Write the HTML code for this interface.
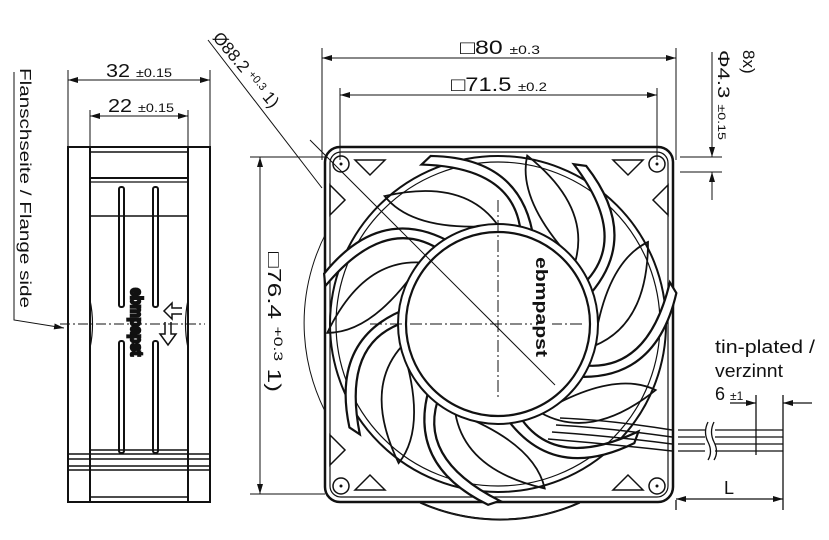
<!DOCTYPE html>
<html><head><meta charset="utf-8"><style>
html,body{margin:0;padding:0;background:#fff;}
svg{display:block;}
text{font-family:"Liberation Sans",sans-serif;fill:#111;}
</style></head><body>
<svg width="829" height="540" viewBox="0 0 829 540" xmlns="http://www.w3.org/2000/svg">
<defs>
<marker id="a" markerWidth="10" markerHeight="6" refX="10" refY="3" orient="auto-start-reverse" markerUnits="userSpaceOnUse"><path d="M0,0 L10,3 L0,6 Z" fill="#111"/></marker>
<g id="strut"><path d="M90,-5 Q155,-30 128,-122 L139,-116 Q166,-28 91,8 Z" fill="#fff" stroke="#111" stroke-width="2.2"/></g>
<g id="blade"><path d="M96,22 Q150,0 150,-82 Q108,-62 96,22 Z" fill="none" stroke="#111" stroke-width="1.8"/></g>
</defs>

<!-- LEFT SIDE VIEW -->
<g stroke="#111" fill="none" stroke-width="2">
<rect x="68" y="147" width="142" height="355"/>
<line x1="90" y1="147" x2="90" y2="502"/>
<line x1="188" y1="147" x2="188" y2="502"/>
<line x1="90" y1="152" x2="188" y2="152" stroke-width="1.5"/>
<line x1="90" y1="178" x2="188" y2="178"/>
<line x1="90" y1="182" x2="188" y2="182" stroke-width="1.2"/>
<line x1="90" y1="216" x2="188" y2="216" stroke-width="1.5"/>
<line x1="90" y1="450" x2="188" y2="450" stroke-width="1.5"/>
<line x1="68" y1="454" x2="210" y2="454" stroke-width="1.5"/>
<line x1="68" y1="459" x2="210" y2="459" stroke-width="1.5"/>
<line x1="68" y1="466" x2="210" y2="466" stroke-width="1.5"/>
<line x1="68" y1="470" x2="210" y2="470" stroke-width="1.5"/>
<line x1="90" y1="497" x2="188" y2="497" stroke-width="1.5"/>
<rect x="119" y="187" width="5" height="120" rx="2"/>
<rect x="153" y="187" width="5" height="120" rx="2"/>
<rect x="119" y="341" width="5" height="112" rx="2"/>
<rect x="153" y="341" width="5" height="112" rx="2"/>
<path d="M90,300 Q95,324 90,348 M188,300 Q183,324 188,348" stroke-width="1.2"/>
<path d="M182,308 L172,308 L172,303 L164,311 L172,319 L172,314 L182,314" stroke-width="1.5"/>
<path d="M165,322 L165,334 L160,334 L168,345 L176,334 L171,334 L171,322" stroke-width="1.5"/>
</g>
<line x1="60" y1="324" x2="205" y2="324" stroke="#111" stroke-width="1" stroke-dasharray="10,3,2,3"/>
<text transform="translate(131,288) rotate(90)" font-size="17" font-weight="bold" stroke="#111" stroke-width="2.5" textLength="68" lengthAdjust="spacingAndGlyphs">ebmpapst</text>
<!-- side dims -->
<g stroke="#111" stroke-width="1" fill="none">
<line x1="68" y1="70" x2="68" y2="147"/><line x1="210" y1="70" x2="210" y2="147"/>
<line x1="68" y1="80" x2="210" y2="80" marker-start="url(#a)" marker-end="url(#a)"/>
<line x1="90" y1="110" x2="90" y2="147"/><line x1="188" y1="110" x2="188" y2="147"/>
<line x1="90" y1="116" x2="188" y2="116" marker-start="url(#a)" marker-end="url(#a)"/>
<polyline points="14,72 14,320 64,328" marker-end="url(#a)"/>
</g>
<text x="106" y="77" font-size="18" textLength="66" lengthAdjust="spacingAndGlyphs">32 <tspan font-size="12">±0.15</tspan></text>
<text x="108" y="112" font-size="18" textLength="66" lengthAdjust="spacingAndGlyphs">22 <tspan font-size="12">±0.15</tspan></text>
<text transform="translate(20,68) rotate(90)" font-size="16" textLength="240" lengthAdjust="spacingAndGlyphs">Flanschseite / Flange side</text>

<!-- FRONT VIEW -->
<path d="M340,210 A196,196 0 0 0 596,494" fill="none" stroke="#111" stroke-width="1"/>
<path d="M420,503 A196,196 0 0 0 580,503" fill="none" stroke="#111" stroke-width="1"/>
<rect x="325" y="147" width="348" height="355" rx="15" fill="#fff" stroke="#111" stroke-width="2.5"/>
<path d="M420,502 A196,196 0 0 0 580,502" fill="none" stroke="#111" stroke-width="1"/>
<rect x="330" y="152" width="338" height="345" rx="11" fill="none" stroke="#111" stroke-width="1.2"/>
<circle cx="498" cy="324" r="168" fill="none" stroke="#111" stroke-width="2"/>
<circle cx="498" cy="324" r="162" fill="none" stroke="#111" stroke-width="1.2"/>
<g transform="translate(498,324)">
<use href="#blade" transform="rotate(0)"/><use href="#blade" transform="rotate(51.4)"/><use href="#blade" transform="rotate(102.8)"/><use href="#blade" transform="rotate(154.2)"/><use href="#blade" transform="rotate(205.7)"/><use href="#blade" transform="rotate(257.1)"/><use href="#blade" transform="rotate(308.5)"/>
<use href="#strut" transform="rotate(30)"/><use href="#strut" transform="rotate(81)"/><use href="#strut" transform="rotate(133)"/><use href="#strut" transform="rotate(185)"/><use href="#strut" transform="rotate(236)"/><use href="#strut" transform="rotate(288)"/><use href="#strut" transform="rotate(339)"/>
<circle r="100" fill="#fff" stroke="#111" stroke-width="2"/>
<circle r="92" fill="#fff" stroke="#111" stroke-width="2.2"/>
</g>
<!-- corners -->
<g stroke="#111" stroke-width="1.5" fill="#fff">
<circle cx="341" cy="164" r="8"/><circle cx="657" cy="164" r="8"/><circle cx="341" cy="486" r="8"/><circle cx="657" cy="486" r="8"/>
</g>
<g fill="#111"><circle cx="341" cy="164" r="1.5"/><circle cx="657" cy="164" r="1.5"/><circle cx="341" cy="486" r="1.5"/><circle cx="657" cy="486" r="1.5"/></g>
<g stroke="#111" stroke-width="1.5" fill="none">
<path d="M330,185 L345,200 L330,215 Z M355,160 L370,175 L385,160 Z"/>
<path d="M668,185 L653,200 L668,215 Z M643,160 L628,175 L613,160 Z"/>
<path d="M330,465 L345,450 L330,435 Z M355,490 L370,475 L385,490 Z"/>
<path d="M643,490 L628,475 L613,490 Z"/>
</g>
<!-- wires inside -->
<g stroke="#111" stroke-width="1.5" fill="none">
<path d="M560,418 Q610,420 672,430 M556,425 Q610,428 672,437 M552,432 Q610,436 672,444 M548,439 Q610,444 672,451"/>
</g>
<!-- centerlines -->
<g stroke="#111" stroke-width="1" stroke-dasharray="12,3,2,3">
<line x1="370" y1="324" x2="585" y2="324"/><line x1="498" y1="200" x2="498" y2="400"/>
</g>
<line x1="310" y1="140" x2="555" y2="385" stroke="#111" stroke-width="1"/>
<rect x="532" y="255" width="20" height="105" fill="#fff"/>
<text transform="translate(536,257) rotate(90)" font-size="17" font-weight="bold" textLength="100" lengthAdjust="spacingAndGlyphs">ebmpapst</text>

<!-- wires out -->
<g stroke="#111" stroke-width="1.3" fill="none">
<line x1="678" y1="430" x2="705" y2="430"/><line x1="678" y1="437" x2="705" y2="437"/><line x1="678" y1="444" x2="705" y2="444"/><line x1="678" y1="451" x2="705" y2="451"/>
<line x1="715" y1="430" x2="783" y2="430"/><line x1="715" y1="437" x2="783" y2="437"/><line x1="715" y1="444" x2="783" y2="444"/><line x1="715" y1="451" x2="783" y2="451"/>
<path d="M708,422 Q703,432 708,442 Q713,452 708,460 M714,422 Q709,432 714,442 Q719,452 714,460"/>
<line x1="756" y1="395" x2="756" y2="455"/><line x1="783" y1="395" x2="783" y2="510"/>
<line x1="730" y1="403" x2="756" y2="403" marker-end="url(#a)"/>
<line x1="812" y1="403" x2="783" y2="403" marker-end="url(#a)"/>
<line x1="676" y1="500" x2="676" y2="510"/>
<line x1="676" y1="499" x2="783" y2="499" marker-start="url(#a)" marker-end="url(#a)"/>
</g>
<text x="715" y="353" font-size="18" textLength="100" lengthAdjust="spacingAndGlyphs">tin-plated /</text>
<text x="715" y="377" font-size="18" textLength="68" lengthAdjust="spacingAndGlyphs">verzinnt</text>
<text x="715" y="400" font-size="18">6 <tspan font-size="12">±1</tspan></text>
<text x="724" y="494" font-size="18">L</text>

<!-- top dims -->
<g stroke="#111" stroke-width="1" fill="none">
<line x1="322" y1="48" x2="322" y2="160"/><line x1="676" y1="48" x2="676" y2="160"/>
<line x1="322" y1="58" x2="676" y2="58" marker-start="url(#a)" marker-end="url(#a)"/>
<line x1="340" y1="88" x2="340" y2="160"/><line x1="657" y1="88" x2="657" y2="160"/>
<line x1="340" y1="95" x2="657" y2="95" marker-start="url(#a)" marker-end="url(#a)"/>
<line x1="208" y1="40" x2="322" y2="188"/>
<line x1="250" y1="157" x2="325" y2="157"/><line x1="250" y1="494" x2="325" y2="494"/>
<line x1="260" y1="157" x2="260" y2="494" marker-start="url(#a)" marker-end="url(#a)"/>
<line x1="680" y1="157" x2="722" y2="157"/><line x1="680" y1="172" x2="722" y2="172"/>
<line x1="712" y1="52" x2="712" y2="157" marker-end="url(#a)"/>
<line x1="712" y1="200" x2="712" y2="172" marker-end="url(#a)"/>
</g>
<text x="460" y="54" font-size="19" textLength="80" lengthAdjust="spacingAndGlyphs">□80 <tspan font-size="12">±0.3</tspan></text>
<text x="451" y="91" font-size="19" textLength="96" lengthAdjust="spacingAndGlyphs">□71.5 <tspan font-size="12">±0.2</tspan></text>
<text transform="translate(212,38) rotate(50)" font-size="17">Ø88.2 <tspan font-size="11" dy="-4">+0.3</tspan><tspan dy="4"> 1)</tspan></text>
<text transform="translate(268,252) rotate(90)" font-size="18" textLength="140" lengthAdjust="spacingAndGlyphs">□76.4 <tspan font-size="12" dy="-6">+0.3</tspan><tspan dy="6"> 1)</tspan></text>
<text transform="translate(718,50) rotate(90)" font-size="17" textLength="90" lengthAdjust="spacingAndGlyphs">Φ4.3 <tspan font-size="11">±0.15</tspan></text>
<text transform="translate(743,50) rotate(90)" font-size="17">8x)</text>
</svg>
</body></html>
